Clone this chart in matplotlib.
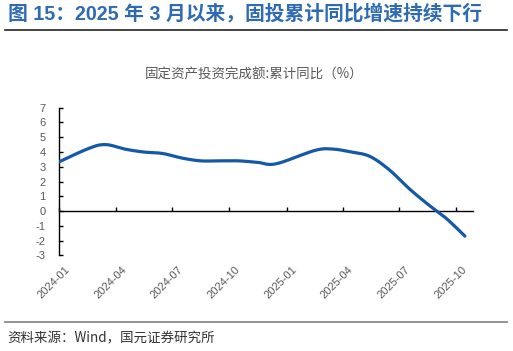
import numpy as np
import matplotlib
matplotlib.use("Agg")
import matplotlib.pyplot as plt
import matplotlib.dates as mdates
from matplotlib.transforms import ScaledTranslation
from matplotlib.lines import Line2D
import datetime as dt

# ---- data ----
months = ['2023-12', '2024-02', '2024-03', '2024-04', '2024-05', '2024-06', '2024-07',
          '2024-08', '2024-09', '2024-10', '2024-11', '2024-12', '2025-02', '2025-03',
          '2025-04', '2025-05', '2025-06', '2025-07', '2025-08', '2025-09', '2025-10']
values = [3.0, 4.2, 4.5, 4.2, 4.0, 3.9, 3.6, 3.4, 3.4, 3.4, 3.3, 3.2, 4.1, 4.2,
          4.0, 3.7, 2.8, 1.6, 0.5, -0.5, -1.7]
tick_labels = ['2024-01', '2024-04', '2024-07', '2024-10', '2025-01', '2025-04', '2025-07', '2025-10']
yticks = list(range(-3, 8))

title = '图 15：2025 年 3 月以来，固投累计同比增速持续下行'
chart_title = '固定资产投资完成额:累计同比（%）'
source = '资料来源：Wind，国元证券研究所'

plt.rcParams['font.family'] = ['Liberation Sans', 'Noto Sans CJK SC', 'DejaVu Sans']
CJK = ['Noto Sans CJK SC', 'DejaVu Sans']

fig = plt.figure(figsize=(5.13, 3.51), dpi=100)
ax = fig.add_axes([0.1156, 0.2726, 0.8064, 0.4206])

# x positions (mid-month)
xd = np.array([mdates.date2num(dt.datetime.strptime(m, '%Y-%m') + dt.timedelta(days=14)) for m in months])
yv = np.array(values, dtype=float)

# smooth (Excel-like bezier through points) in screen-like scale
sx, sy = 0.6208, 14.75
P = np.column_stack([xd * sx, yv * sy])
n = len(P)
curve = []
for i in range(n - 1):
    p0 = P[i - 1] if i > 0 else P[i]
    p1 = P[i]
    p2 = P[i + 1]
    p3 = P[i + 2] if i + 2 < n else P[i + 1]
    c1 = p1 + (p2 - p0) / 6.0
    c2 = p2 - (p3 - p1) / 6.0
    t = np.linspace(0, 1, 30)[:, None]
    seg = (1 - t) ** 3 * p1 + 3 * (1 - t) ** 2 * t * c1 + 3 * (1 - t) * t ** 2 * c2 + t ** 3 * p2
    curve.append(seg if i == 0 else seg[1:])
curve = np.vstack(curve)
ax.plot(curve[:, 0] / sx, curve[:, 1] / sy, color='#1459A8', lw=2.3, solid_capstyle='round', zorder=3)

x0 = mdates.date2num(dt.datetime(2024, 1, 1))
x1 = mdates.date2num(dt.datetime(2025, 10, 28))
ax.set_xlim(x0, x1)
ax.set_ylim(-3, 7)

for s in ['top', 'right']:
    ax.spines[s].set_visible(False)
ax.spines['left'].set_color('black')
ax.spines['left'].set_linewidth(1.0)
ax.spines['bottom'].set_position(('data', 0))
ax.spines['bottom'].set_color('black')
ax.spines['bottom'].set_linewidth(1.0)

tick_pos = [mdates.date2num(dt.datetime.strptime(t, '%Y-%m')) for t in tick_labels]
ax.set_xticks(tick_pos)
ax.tick_params(axis='x', direction='in', length=3, width=1, labelbottom=False)
ax.set_yticks(yticks)
ax.set_yticklabels([str(v) for v in yticks])
ax.tick_params(axis='y', direction='in', length=3, width=1, pad=10, labelsize=8, labelcolor='#595959')

sec = ax.secondary_xaxis('bottom')
sec.spines['bottom'].set_visible(False)
sec.set_xticks(tick_pos)
sec.set_xticklabels(tick_labels)
sec.tick_params(axis='x', length=0, pad=9.4, labelsize=8, labelcolor='#595959')
off = ScaledTranslation(9 / 100, 0, fig.dpi_scale_trans)
for lab in sec.get_xticklabels():
    lab.set_rotation(45)
    lab.set_rotation_mode('anchor')
    lab.set_ha('right')
    lab.set_va('center')
    lab.set_transform(lab.get_transform() + off)

# texts
fig.text(8 / 513, 1 - 13.5 / 351, title, fontsize=14.25, fontweight='bold', color='#2F6BB3',
         ha='left', va='center', family=['Liberation Sans', 'Noto Sans CJK SC'])
fig.add_artist(Line2D([5 / 513, 507 / 513], [1 - 30 / 351, 1 - 30 / 351], color='#222222', lw=1.2))
fig.text(254 / 513, 1 - 75 / 351, chart_title, fontsize=9.7, color='#595959', ha='center', va='center', family=CJK)
fig.add_artist(Line2D([5 / 513, 507 / 513], [1 - 321.7 / 351, 1 - 321.7 / 351], color='#808080', lw=1.2))
fig.text(7 / 513, 1 - 338 / 351, source, fontsize=9.7, color='#333333', ha='left', va='center',
         family=['Noto Sans CJK SC', 'DejaVu Sans'])

fig.savefig('out.png', dpi=100)
